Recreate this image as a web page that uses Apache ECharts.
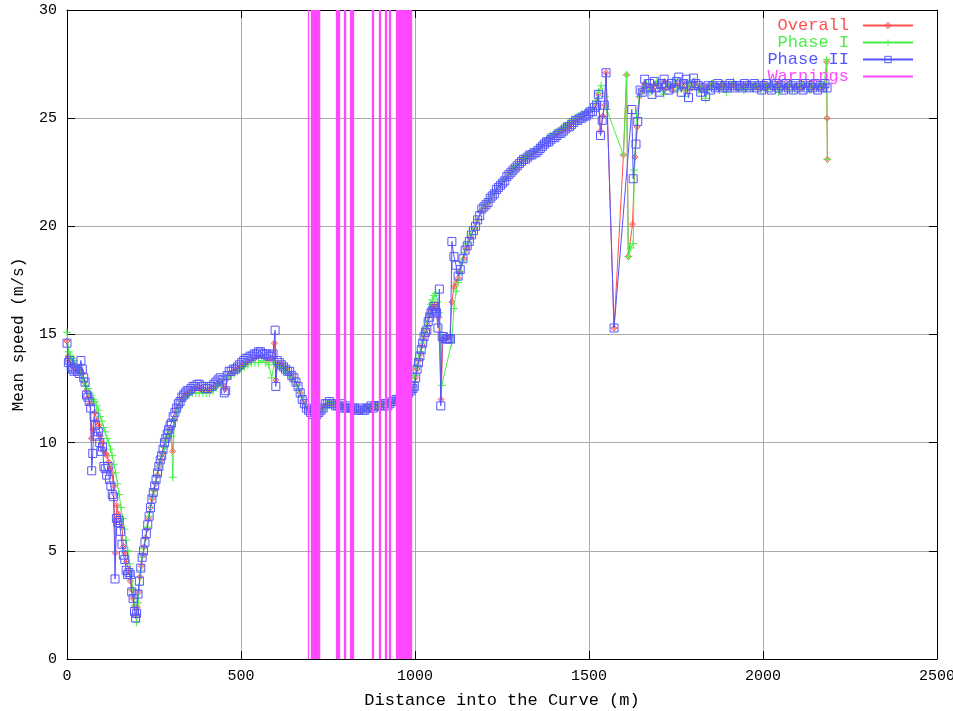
<!DOCTYPE html>
<html>
<head>
<meta charset="utf-8">
<title>Mean speed along the curve</title>
<script src="https://cdn.jsdelivr.net/npm/echarts@6/dist/echarts.min.js"></script>
<style>
  html, body { margin: 0; padding: 0; background: #fff; }
  #chart { width: 953px; height: 711px; }
</style>
</head>
<body>
<div id="chart"></div>
<script>
// Mean speed (m/s) against distance into the curve (m): [distance, speed]
const overallData = [
  [0,14.7],[4,14.0],[8,13.8],[14,13.6],[20,13.5],[26,13.4],[32,13.3],[38,13.4],[44,13.2],[50,12.8],
  [56,12.4],[62,12.1],[66,11.8],[70,10.2],[74,10.6],[80,11.4],[86,11.0],[91,10.8],[96,10.3],[101,10.0],
  [106,9.6],[111,9.5],[115,9.4],[120,9.1],[125,8.8],[129,8.6],[134,8.0],[139,4.9],[143,7.1],[148,6.7],
  [153,6.5],[158,6.1],[162,5.2],[166,4.9],[171,4.5],[177,4.1],[182,3.6],[186,3.2],[190,2.8],[194,2.4],
  [198,2.0],[202,2.4],[206,3.1],[210,3.8],[214,4.3],[218,4.8],[222,5.2],[226,5.6],[230,6.0],[235,6.5],
  [240,7.0],[245,7.4],[250,7.8],[255,8.1],[260,8.5],[265,8.9],[270,9.2],[275,9.5],[280,9.8],[285,10.1],
  [290,10.3],[295,10.6],[300,10.6],[304,9.6],[308,11.1],[315,11.5],[320,11.7],[330,12.0],[340,12.2],[350,12.3],
  [360,12.4],[370,12.5],[380,12.5],[390,12.4],[400,12.4],[410,12.4],[420,12.5],[430,12.7],[440,12.8],[450,12.6],
  [456,12.5],[462,13.0],[470,13.2],[480,13.3],[490,13.4],[500,13.5],[510,13.6],[520,13.7],[530,13.8],[540,13.9],
  [550,14.0],[560,14.0],[570,13.9],[580,13.8],[590,13.9],[596,14.6],[600,12.9],[606,13.7],[614,13.6],[622,13.5],
  [630,13.4],[640,13.2],[650,13.0],[660,12.7],[670,12.3],[680,11.9],[690,11.6],[700,11.4],[710,11.4],[720,11.3],
  [730,11.5],[740,11.7],[750,11.8],[760,11.8],[770,11.8],[780,11.7],[790,11.7],[800,11.6],[810,11.6],[820,11.6],
  [830,11.5],[840,11.5],[850,11.5],[860,11.6],[870,11.6],[880,11.6],[890,11.7],[900,11.7],[910,11.8],[920,11.8],
  [930,11.8],[940,11.9],[950,12.0],[960,12.1],[970,12.2],[980,12.3],[990,12.4],[996,12.6],[1001,13.0],[1006,13.4],
  [1011,13.8],[1016,14.1],[1021,14.5],[1026,14.9],[1031,15.2],[1036,15.5],[1041,15.9],[1046,16.1],[1051,16.3],[1056,16.4],
  [1062,16.2],[1068,15.8],[1075,12.0],[1080,14.8],[1090,14.8],[1100,14.9],[1106,16.5],[1112,17.2],[1118,17.4],[1124,17.6],
  [1130,17.9],[1140,18.5],[1150,19.0],[1160,19.5],[1170,19.9],[1180,20.3],[1190,20.7],[1200,20.9],[1210,21.1],[1220,21.4],
  [1230,21.6],[1240,21.8],[1250,22.0],[1260,22.2],[1270,22.4],[1280,22.6],[1290,22.7],[1300,22.9],[1310,23.1],[1320,23.2],
  [1330,23.3],[1340,23.4],[1350,23.5],[1360,23.7],[1370,23.8],[1380,23.9],[1390,24.1],[1400,24.2],[1410,24.3],[1420,24.4],
  [1430,24.5],[1440,24.6],[1450,24.8],[1460,24.9],[1470,25.0],[1480,25.1],[1490,25.2],[1500,25.3],[1510,25.4],[1520,25.6],
  [1527,26.1],[1533,24.4],[1540,25.1],[1545,25.6],[1549,27.1],[1572,15.3],[1599,23.3],[1608,27.0],[1613,18.6],[1625,20.1],
  [1632,23.2],[1638,24.6],[1645,26.0],[1652,26.3],[1660,26.6],[1668,26.4],[1676,26.5],[1684,26.3],[1692,26.6],[1700,26.5],
  [1708,26.4],[1716,26.7],[1724,26.4],[1732,26.5],[1740,26.3],[1748,26.6],[1756,26.5],[1764,26.4],[1772,26.6],[1780,26.3],
  [1788,26.5],[1796,26.4],[1804,26.6],[1812,26.5],[1820,26.3],[1828,26.5],[1836,26.4],[1844,26.5],[1852,26.6],[1860,26.4],
  [1868,26.5],[1876,26.4],[1884,26.6],[1892,26.5],[1900,26.4],[1908,26.5],[1916,26.6],[1924,26.4],[1932,26.5],[1940,26.4],
  [1948,26.5],[1956,26.6],[1964,26.4],[1972,26.5],[1980,26.5],[1988,26.4],[1996,26.5],[2004,26.6],[2012,26.4],[2020,26.5],
  [2028,26.4],[2036,26.5],[2044,26.6],[2052,26.4],[2060,26.5],[2068,26.4],[2076,26.6],[2084,26.5],[2092,26.4],[2100,26.5],
  [2108,26.4],[2116,26.5],[2124,26.6],[2132,26.4],[2140,26.5],[2148,26.4],[2156,26.5],[2164,26.4],[2172,26.5],[2180,26.4],
  [2183,27.6],[2184,25.0],[2185,23.1]
];

const phaseOneData = [
  [0,15.1],[5,14.2],[10,14.0],[15,13.9],[20,13.8],[25,13.6],[30,13.5],[35,13.4],[40,13.2],[45,13.0],
  [50,12.8],[55,12.6],[60,12.5],[65,12.3],[70,12.2],[75,12.0],[80,11.9],[85,11.7],[90,11.5],[95,11.2],
  [100,11.0],[105,10.7],[110,10.5],[115,10.2],[120,10.0],[125,9.7],[130,9.4],[135,9.0],[140,8.6],[145,8.1],
  [150,7.6],[155,7.0],[160,6.5],[165,6.0],[170,5.5],[175,5.0],[180,4.4],[185,3.8],[190,3.2],[195,2.5],
  [200,1.7],[204,2.6],[208,3.4],[212,4.1],[216,4.7],[220,5.1],[225,5.6],[230,6.1],[235,6.6],[240,7.0],
  [245,7.5],[250,7.8],[255,8.2],[260,8.5],[265,8.9],[270,9.2],[275,9.5],[280,9.8],[285,10.1],[290,10.3],
  [295,10.5],[300,10.3],[304,8.4],[308,11.0],[315,11.4],[320,11.6],[330,11.9],[340,12.1],[350,12.2],[360,12.3],
  [370,12.3],[380,12.3],[390,12.3],[400,12.3],[410,12.3],[420,12.4],[430,12.6],[440,12.7],[450,12.9],[460,13.0],
  [470,13.1],[480,13.2],[490,13.3],[500,13.4],[510,13.5],[520,13.6],[530,13.7],[540,13.7],[550,13.7],[560,13.8],
  [570,13.7],[580,13.6],[588,13.0],[596,13.7],[605,13.6],[615,13.5],[625,13.4],[635,13.2],[645,13.0],[655,12.8],
  [665,12.5],[675,12.1],[685,11.7],[695,11.5],[705,11.4],[715,11.3],[725,11.4],[735,11.5],[745,11.7],[755,11.9],
  [765,11.8],[775,11.8],[785,11.7],[795,11.6],[805,11.6],[815,11.6],[825,11.6],[835,11.5],[845,11.5],[855,11.6],
  [865,11.6],[875,11.7],[885,11.7],[895,11.7],[905,11.8],[915,11.8],[925,11.8],[935,11.9],[945,12.0],[955,12.0],
  [965,12.1],[975,12.2],[985,12.4],[995,12.6],[1000,13.1],[1005,13.5],[1010,13.9],[1015,14.2],[1020,14.6],[1025,15.0],
  [1030,15.3],[1035,15.6],[1040,16.0],[1045,16.4],[1050,16.6],[1055,16.8],[1060,16.9],[1065,16.5],[1070,16.0],[1077,12.65],
  [1105,14.6],[1112,16.2],[1118,17.0],[1124,17.4],[1130,17.9],[1136,18.4],[1142,18.8],[1150,19.2],[1160,19.6],[1170,19.9],
  [1180,20.3],[1190,20.7],[1200,21.0],[1210,21.2],[1220,21.4],[1230,21.6],[1240,21.9],[1250,22.1],[1260,22.2],[1270,22.4],
  [1280,22.6],[1290,22.8],[1300,22.9],[1310,23.1],[1320,23.2],[1330,23.4],[1340,23.5],[1350,23.6],[1360,23.8],[1370,23.9],
  [1380,24.1],[1390,24.2],[1400,24.3],[1410,24.4],[1420,24.5],[1430,24.6],[1440,24.8],[1450,24.9],[1460,25.0],[1470,25.1],
  [1480,25.2],[1490,25.3],[1500,25.4],[1510,25.5],[1520,25.8],[1527,26.2],[1535,26.5],[1545,26.0],[1551,25.4],[1599,23.3],
  [1608,27.0],[1613,18.6],[1620,19.0],[1627,19.2],[1630,22.6],[1637,25.2],[1645,26.0],[1655,26.3],[1665,26.6],[1675,26.2],
  [1685,26.5],[1695,26.7],[1705,26.4],[1715,26.1],[1725,26.6],[1735,26.5],[1745,26.8],[1755,26.3],[1765,26.5],[1775,26.0],
  [1785,26.6],[1795,26.4],[1805,26.7],[1815,26.3],[1825,26.5],[1835,25.9],[1845,26.4],[1855,26.6],[1865,26.5],[1875,26.3],
  [1885,26.6],[1895,26.2],[1905,26.5],[1915,26.7],[1925,26.4],[1935,26.5],[1945,26.3],[1955,26.6],[1965,26.4],[1975,26.5],
  [1985,26.6],[1995,26.3],[2005,26.5],[2015,26.4],[2025,26.6],[2035,26.5],[2045,26.2],[2055,26.5],[2065,26.4],[2075,26.6],
  [2085,26.3],[2095,26.5],[2105,26.4],[2115,26.6],[2125,26.5],[2135,26.3],[2145,26.5],[2155,26.4],[2165,26.6],[2175,26.4],
  [2183,27.7],[2185,23.1]
];

const phaseTwoData = [
  [0,14.6],[4,13.7],[8,13.8],[12,13.5],[16,13.4],[20,13.3],[25,13.4],[30,13.3],[35,13.2],[40,13.8],
  [44,13.4],[48,13.0],[52,12.8],[56,12.2],[60,12.1],[64,11.9],[68,11.6],[71,8.7],[74,9.5],[78,11.2],
  [82,10.8],[86,10.3],[90,10.5],[94,10.0],[98,9.6],[102,9.8],[106,8.9],[110,8.8],[114,8.5],[118,8.9],
  [122,8.3],[126,8.0],[130,7.6],[134,7.5],[138,3.7],[142,6.5],[146,6.3],[150,6.4],[154,5.9],[158,5.3],
  [162,4.8],[166,4.6],[170,4.1],[174,3.9],[178,4.0],[182,3.9],[186,3.1],[190,2.8],[194,2.2],[197,1.9],
  [200,2.1],[204,3.0],[208,3.6],[212,4.2],[216,4.7],[220,5.0],[224,5.4],[228,5.8],[232,6.2],[236,6.6],
  [240,7.0],[244,7.4],[248,7.7],[252,8.0],[256,8.3],[260,8.6],[264,8.9],[268,9.2],[272,9.4],[276,9.7],
  [280,10.0],[284,10.2],[288,10.4],[292,10.6],[296,10.8],[300,10.9],[305,11.2],[310,11.4],[315,11.6],[320,11.8],
  [325,11.9],[330,12.1],[335,12.2],[340,12.3],[345,12.4],[350,12.4],[356,12.5],[362,12.6],[368,12.6],[374,12.7],
  [380,12.7],[386,12.6],[392,12.6],[398,12.5],[404,12.5],[410,12.6],[416,12.6],[422,12.7],[428,12.8],[434,12.9],
  [440,13.0],[446,12.9],[452,12.3],[456,12.4],[460,13.1],[466,13.3],[472,13.3],[478,13.4],[484,13.4],[490,13.5],
  [496,13.6],[502,13.7],[508,13.8],[514,13.9],[520,13.9],[526,14.0],[532,14.0],[538,14.1],[544,14.1],[550,14.2],
  [556,14.2],[562,14.1],[568,14.1],[574,14.1],[580,14.0],[586,14.0],[592,14.1],[598,15.2],[600,12.6],[604,13.8],
  [610,13.7],[616,13.6],[622,13.5],[628,13.4],[634,13.3],[640,13.3],[646,13.1],[652,13.0],[658,12.8],[664,12.6],
  [670,12.3],[676,12.0],[682,11.8],[688,11.6],[694,11.5],[700,11.4],[706,11.3],[712,11.4],[718,11.3],[724,11.4],
  [730,11.5],[736,11.6],[742,11.8],[748,11.8],[754,11.9],[760,11.8],[766,11.8],[772,11.7],[778,11.7],[784,11.7],
  [790,11.8],[796,11.6],[802,11.6],[808,11.7],[814,11.6],[820,11.6],[826,11.6],[832,11.5],[838,11.5],[844,11.6],
  [850,11.5],[856,11.5],[862,11.6],[868,11.6],[874,11.7],[880,11.6],[886,11.7],[892,11.7],[898,11.7],[904,11.7],
  [910,11.8],[916,11.8],[922,11.7],[928,11.8],[934,11.9],[940,11.9],[946,12.0],[952,12.0],[958,12.1],[964,12.1],
  [970,12.2],[976,12.2],[982,12.3],[988,12.4],[994,12.5],[998,12.6],[1002,13.0],[1006,13.4],[1010,13.7],[1014,14.0],
  [1018,14.3],[1022,14.6],[1026,14.9],[1030,15.1],[1034,15.2],[1038,15.6],[1042,15.8],[1046,16.0],[1050,16.1],[1054,16.3],
  [1058,16.2],[1062,16.0],[1066,15.3],[1070,17.1],[1074,11.7],[1078,14.9],[1082,14.9],[1086,14.8],[1090,14.8],[1094,14.8],
  [1098,14.8],[1102,14.8],[1106,19.3],[1112,18.6],[1118,18.2],[1124,17.7],[1130,18.0],[1138,18.5],[1144,18.9],[1150,19.1],
  [1156,19.3],[1162,19.6],[1168,19.8],[1174,20.0],[1180,20.3],[1186,20.5],[1192,20.8],[1198,20.9],[1204,21.0],[1210,21.1],
  [1216,21.3],[1222,21.4],[1228,21.5],[1234,21.7],[1240,21.8],[1246,21.9],[1252,22.0],[1258,22.1],[1264,22.3],[1270,22.4],
  [1276,22.5],[1282,22.6],[1288,22.7],[1294,22.8],[1300,22.9],[1306,23.0],[1312,23.1],[1318,23.1],[1324,23.2],[1330,23.3],
  [1336,23.3],[1342,23.4],[1348,23.4],[1354,23.5],[1360,23.6],[1366,23.7],[1372,23.8],[1378,23.9],[1384,23.9],[1390,24.0],
  [1396,24.1],[1402,24.1],[1408,24.2],[1414,24.3],[1420,24.3],[1426,24.4],[1432,24.5],[1438,24.6],[1444,24.6],[1450,24.7],
  [1456,24.8],[1462,24.9],[1468,24.9],[1474,25.0],[1480,25.0],[1486,25.1],[1492,25.1],[1498,25.2],[1504,25.3],[1510,25.3],
  [1516,25.5],[1522,25.6],[1527,26.1],[1533,24.2],[1538,24.9],[1544,25.6],[1549,27.1],[1572,15.3],[1623,25.4],[1627,22.2],
  [1635,23.8],[1640,24.85],[1647,26.3],[1653,26.2],[1660,26.8],[1667,26.4],[1674,26.6],[1681,26.1],[1688,26.7],[1695,26.4],
  [1702,26.2],[1709,26.6],[1716,26.8],[1723,26.5],[1730,26.3],[1737,26.6],[1744,26.4],[1751,26.7],[1758,26.9],[1765,26.2],
  [1772,26.6],[1779,26.8],[1786,25.95],[1793,26.5],[1800,26.85],[1807,26.6],[1814,26.5],[1821,26.2],[1828,26.4],[1835,26.0],
  [1842,26.5],[1849,26.3],[1856,26.5],[1863,26.4],[1870,26.6],[1877,26.5],[1884,26.4],[1891,26.5],[1898,26.4],[1905,26.6],
  [1912,26.5],[1919,26.4],[1926,26.5],[1933,26.5],[1940,26.4],[1947,26.6],[1954,26.5],[1961,26.4],[1968,26.5],[1975,26.6],
  [1982,26.4],[1989,26.5],[1996,26.3],[2003,26.5],[2010,26.6],[2017,26.4],[2024,26.3],[2031,26.5],[2038,26.6],[2045,26.4],
  [2052,26.5],[2059,26.3],[2066,26.6],[2073,26.4],[2080,26.5],[2087,26.3],[2094,26.6],[2101,26.4],[2108,26.5],[2115,26.3],
  [2122,26.6],[2129,26.4],[2136,26.5],[2143,26.4],[2150,26.6],[2157,26.3],[2164,26.5],[2171,26.4],[2178,26.6],[2184,26.4]
];

// Distances (m) at which a warning was logged
const warningDist = [
  692,
  701,703.5,706,708.5,711,713.5,716,718.5,721,723.5,726,
  773,775.5,778,780.5,783,
  798,800.5,
  814,816.5,819,821.5,
  877,880,
  898,900,
  915,917,
  927,930,
  946,948.5,951,953.5,956,958.5,961,963.5,966,968.5,971,973.5,976,978.5,981,983.5,986,988.5
];

const seriesNames = ['Overall', 'Phase I', 'Phase II', 'Warnings'];
const seriesColors = ['#ff5050', '#48f048', '#5555ff', '#ff48ff'];

const FONT = 'Liberation Mono';
const chart = echarts.init(document.getElementById('chart'), null, { renderer: 'canvas' });

const xRange = { min: 0, max: 2500, interval: 500 };
const yRange = { min: 0, max: 30, interval: 5 };

function frameAxis(base, extra) {
  return Object.assign({
    type: 'value',
    axisLine: { show: true, onZero: false, lineStyle: { color: '#000', width: 1 } },
    axisTick: { show: true, inside: true, length: 8, lineStyle: { color: '#000', width: 1 } },
    splitLine: { show: false },
    axisLabel: { show: false }
  }, base, extra);
}

const HOLLOW = 'rgba(0,0,0,0)';

const option = {
  animation: false,
  backgroundColor: '#fff',
  grid: { left: 67, right: 16, top: 10, bottom: 52, containLabel: false, outerBoundsMode: 'none' },
  xAxis: [
    frameAxis(xRange, {
      position: 'bottom',
      name: 'Distance into the Curve (m)',
      nameLocation: 'middle',
      nameGap: 33,
      nameTextStyle: { fontFamily: FONT, fontSize: 17, color: '#000' },
      axisLabel: { show: true, fontFamily: FONT, fontSize: 15, color: '#000', margin: 10,
                   formatter: v => String(v) },
      splitLine: { show: true, lineStyle: { color: '#aaaaaa', width: 1 } }
    }),
    frameAxis(xRange, { position: 'top' })
  ],
  yAxis: [
    frameAxis(yRange, {
      position: 'left',
      name: 'Mean speed (m/s)',
      nameLocation: 'middle',
      nameGap: 40,
      nameRotate: 90,
      nameTextStyle: { fontFamily: FONT, fontSize: 16, color: '#000' },
      axisLabel: { show: true, fontFamily: FONT, fontSize: 15, color: '#000', margin: 10,
                   formatter: v => String(v) },
      splitLine: { show: true, lineStyle: { color: '#aaaaaa', width: 1 } }
    }),
    frameAxis(yRange, { position: 'right' })
  ],
  legend: {
    orient: 'vertical',
    right: 34,
    top: 12,
    align: 'right',
    itemWidth: 50,
    itemHeight: 8,
    itemGap: 0,
    selectedMode: false,
    textStyle: { fontFamily: FONT, fontSize: 17, lineHeight: 17, padding: [0, 9, 0, 0] },
    data: seriesNames.map((n, i) => ({
      name: n,
      textStyle: { color: seriesColors[i] },
      itemStyle: i === 3
        ? { opacity: 0 }
        : { color: HOLLOW, borderColor: seriesColors[i], borderWidth: 1 }
    }))
  },
  series: [
    {
      name: seriesNames[0],
      type: 'line',
      data: overallData,
      color: seriesColors[0],
      symbol: 'path://M5,0L10,5L5,10L0,5Z M5,2L5,8 M2,5L8,5',
      symbolSize: 6,
      showAllSymbol: true,
      lineStyle: { color: seriesColors[0], width: 1 },
      itemStyle: { color: HOLLOW, borderColor: seriesColors[0], borderWidth: 1 },
      emphasis: { disabled: true },
      z: 2
    },
    {
      name: seriesNames[1],
      type: 'line',
      data: phaseOneData,
      color: seriesColors[1],
      symbol: 'path://M0,5L10,5 M5,0L5,10',
      symbolSize: 8,
      showAllSymbol: true,
      lineStyle: { color: seriesColors[1], width: 1 },
      itemStyle: { color: HOLLOW, borderColor: seriesColors[1], borderWidth: 1 },
      emphasis: { disabled: true },
      z: 3
    },
    {
      name: seriesNames[2],
      type: 'line',
      data: phaseTwoData,
      color: seriesColors[2],
      symbol: 'path://M0,0L10,0L10,10L0,10Z',
      symbolSize: 8,
      showAllSymbol: true,
      lineStyle: { color: seriesColors[2], width: 1 },
      itemStyle: { color: HOLLOW, borderColor: seriesColors[2], borderWidth: 1 },
      emphasis: { disabled: true },
      z: 4
    },
    {
      name: seriesNames[3],
      type: 'line',
      data: [],
      color: seriesColors[3],
      symbol: 'none',
      lineStyle: { color: seriesColors[3], width: 1 },
      z: 5,
      markLine: {
        silent: true,
        symbol: ['none', 'none'],
        label: { show: false },
        emphasis: { disabled: true },
        lineStyle: { color: seriesColors[3], width: 1.3, type: 'solid' },
        data: warningDist.map(d => [{ coord: [d, yRange.min] }, { coord: [d, yRange.max] }])
      }
    }
  ]
};

chart.setOption(option);
</script>
</body>
</html>
